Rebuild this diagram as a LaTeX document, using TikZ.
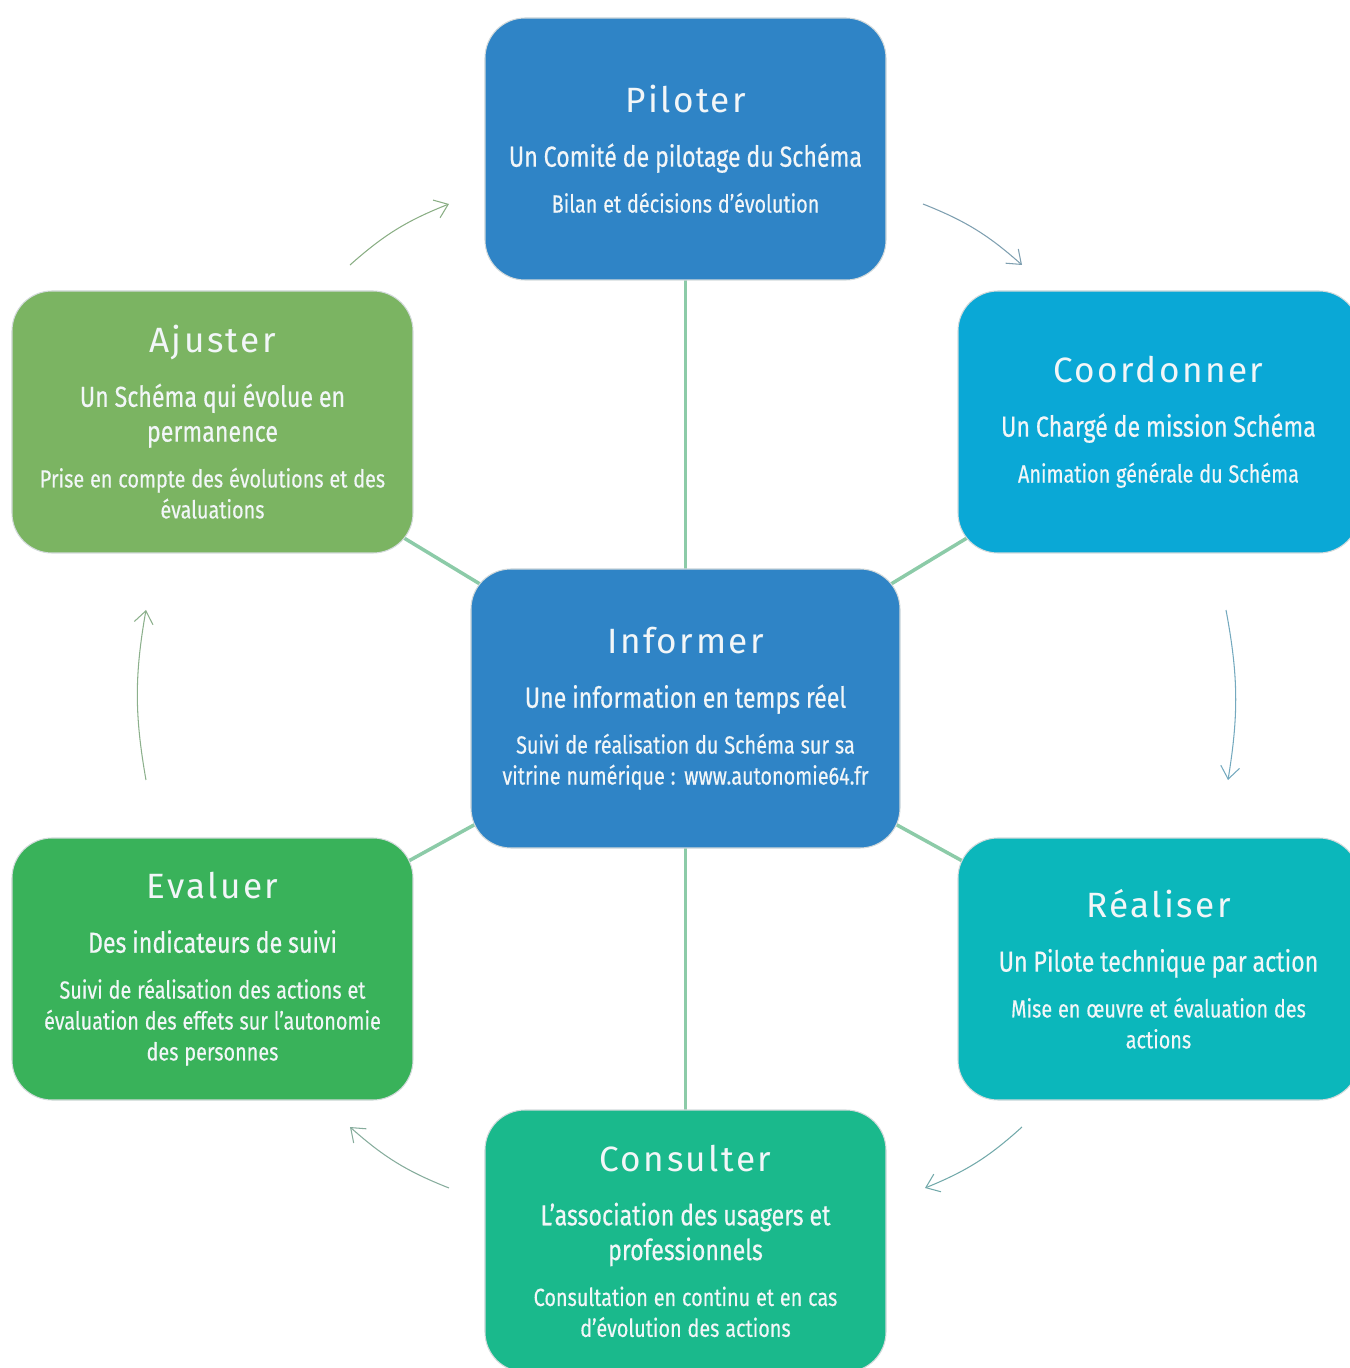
\documentclass[tikz,border=0pt]{standalone}
\usepackage{fontspec}
\setmainfont{Fira Sans}
\newfontfamily\titlefam[LetterSpace=7]{Fira Sans}
\newfontfamily\subfam[FakeStretch=0.8,FakeBold=0.4]{Fira Sans}
\usetikzlibrary{positioning}
\usetikzlibrary{arrows.meta}
\usetikzlibrary{backgrounds}

\definecolor{pilblue}{HTML}{2F84C6}
\definecolor{coocyan}{HTML}{0AA8D6}
\definecolor{ajugreen}{HTML}{7BB462}
\definecolor{evagreen}{HTML}{39B25A}
\definecolor{reateal}{HTML}{0BB7BB}
\definecolor{conteal}{HTML}{1AB98C}
\definecolor{linkgreen}{HTML}{8CCBA8}
\definecolor{rimgray}{HTML}{D3DADB}
\definecolor{txtwhite}{HTML}{F2F6F8}
\definecolor{flowA}{HTML}{8AAE84}
\definecolor{flowB}{HTML}{7E9FB0}
\definecolor{flowC}{HTML}{74A9BE}
\definecolor{flowD}{HTML}{72A9AA}
\definecolor{flowE}{HTML}{86AC9C}
\definecolor{flowF}{HTML}{8CB08C}

\newcommand{\stagetext}[3]{%
 {\titlefam\fontsize{20}{20}\selectfont #1\par}\vspace{11pt}%
 {\subfam\fontsize{16.5}{19.8}\selectfont #2\par}\vspace{8.5pt}%
 {\subfam\fontsize{14.1}{17.6}\selectfont #3\par}}

\begin{document}
\begin{tikzpicture}[every node/.style={outer sep=0pt},
 stage/.style={draw=rimgray,line width=0.6pt,rounded corners=0.8cm,
 minimum width=8.02cm,minimum height=5.24cm,text width=7.8cm,
 align=center,inner sep=0pt,text=txtwhite},
 link/.style={linkgreen,line width=2pt},
 flow/.style={-{Straight Barb[length=2.5mm,width=3.8mm]},line width=0.6pt,
 bend left=10}]

  \useasboundingbox (-13.71,-13.19) rectangle (13.29,14.17);

  \node[stage,fill=pilblue,minimum width=8.58cm,minimum height=5.58cm,
   text width=8.3cm] (inf)
   {\stagetext{Informer}{Une information en temps réel}
   {Suivi de réalisation du Schéma sur sa\\vitrine numérique : www.autonomie64.fr}};
  \node[stage,fill=pilblue,above=5.78cm of inf] (pil)
   {\stagetext{Piloter}{Un Comité de pilotage du Schéma}
   {Bilan et décisions d’évolution}};
  \node[stage,fill=conteal,below=5.24cm of inf] (con)
   {\stagetext{Consulter}{L’association des usagers et\\professionnels}
   {Consultation en continu et en cas\\d’évolution des actions}};
  \node[stage,fill=ajugreen,below left=0.22cm and 1.44cm of pil] (aju)
   {\stagetext{Ajuster}{Un Schéma qui évolue en\\permanence}
   {Prise en compte des évolutions et des\\évaluations}};
  \node[stage,fill=coocyan,below right=0.22cm and 1.44cm of pil] (coo)
   {\stagetext{Coordonner}{Un Chargé de mission Schéma}
   {Animation générale du Schéma}};
  \node[stage,fill=evagreen,above left=0.2cm and 1.44cm of con] (eva)
   {\stagetext{Evaluer}{Des indicateurs de suivi}
   {Suivi de réalisation des actions et\\évaluation des effets sur l’autonomie\\des personnes}};
  \node[stage,fill=reateal,above right=0.2cm and 1.44cm of con] (rea)
   {\stagetext{Réaliser}{Un Pilote technique par action}
   {Mise en œuvre et évaluation des\\actions}};

  \begin{scope}[on background layer]
   \foreach \X in {pil,coo,rea,con,eva,aju}
    \draw[link] (inf.center) -- (\X.center);
  \end{scope}

  % the cycle of arrows round the boxes
  \coordinate (arr1) at (-6.71,8.87);   \coordinate (arr1') at (-4.73,10.09);
  \coordinate (arr2) at (4.75,10.09);   \coordinate (arr2') at (6.73,8.87);
  \coordinate (arr3) at (10.81,1.97);   \coordinate (arr3') at (10.85,-1.43);
  \coordinate (arr4) at (6.73,-8.37);   \coordinate (arr4') at (4.79,-9.59);
  \coordinate (arr5) at (-4.73,-9.59);  \coordinate (arr5') at (-6.71,-8.37);
  \coordinate (arr6) at (-10.79,-1.43); \coordinate (arr6') at (-10.79,1.97);
  \foreach \X/\C in {1/flowA,2/flowB,3/flowC,4/flowD,5/flowE,6/flowF}
   \draw[flow,\C] (arr\X) to (arr\X');

\end{tikzpicture}
\end{document}
